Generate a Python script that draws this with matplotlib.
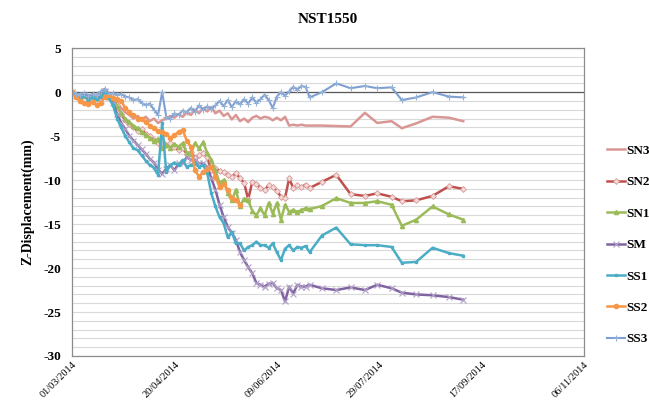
import datetime as dt
import numpy as np
import matplotlib
matplotlib.use("Agg")
import matplotlib.pyplot as plt
from matplotlib.ticker import MultipleLocator

plt.rcParams["axes.unicode_minus"] = False

# Datas (dias desde 01/03/2014)
start = dt.date(2014, 3, 1)
days = list(range(0, 117, 2)) + [122, 129, 136, 143, 149, 156, 161, 168, 176, 184, 191]
days_ss2 = list(range(0, 83, 2))

x_ticks = ["01/03/2014", "20/04/2014", "09/06/2014", "29/07/2014", "17/09/2014", "06/11/2014"]

sn3 = [0, -0.3, -0.5, -0.2, -0.6, -0.4, -0.7, -0.3, 0.2, -0.4,
       -0.6, -1.2, -1.8, -2.3, -2.6, -3.0, -2.7, -3.1, -2.8, -3.3,
       -3.0, -3.5, -3.2, -3.0, -2.7, -2.9, -2.5, -2.8, -2.3, -2.6,
       -2.0, -2.4, -1.8, -2.2, -1.7, -2.4, -2.1, -2.7, -2.4, -3.1,
       -2.6, -3.3, -3.0, -3.4, -2.9, -2.7, -3.0, -2.8, -2.9, -3.2,
       -2.9, -3.2, -2.8, -3.8, -3.7, -3.8, -3.7, -3.8, -3.8,
       -3.8, -3.85, -3.9, -2.35, -3.5, -3.3, -4.1, -3.55, -2.8, -2.9, -3.3]

sn2 = [0, -0.4, -0.6, -0.3, -0.7, -0.5, -0.8, -0.4, 0.1, -0.5,
       -0.8, -1.5, -2.5, -3.2, -3.6, -4.0, -4.4, -4.2, -4.8, -5.0,
       -5.4, -5.8, -5.5, -6.0, -5.8, -6.2, -6.6, -6.4, -7.0, -6.8,
       -7.5, -7.2, -6.9, -7.4, -8.9, -8.6, -9.0, -9.1, -9.4, -9.6,
       -9.2, -9.8, -10.3, -12.2, -10.2, -10.4, -10.9, -11.1, -10.6, -10.8,
       -11.2, -11.9, -12.0, -9.8, -10.9, -10.6, -10.8, -10.5, -10.9,
       -10.2, -9.4, -11.6, -11.8, -11.5, -11.9, -12.4, -12.3, -11.8, -10.7, -11.0]

sn1 = [0, -0.3, -0.7, -0.4, -0.8, -0.5, -0.7, -0.3, 0.2, -0.5,
       -0.9, -1.6, -2.4, -3.0, -3.4, -3.8, -4.1, -4.5, -4.9, -5.2,
       -5.6, -5.3, -6.4, -6.0, -6.3, -5.9, -6.2, -5.8, -6.9, -7.0,
       -5.8, -6.4, -5.7, -6.9, -7.7, -8.9, -10.3, -10.0, -11.5, -12.3,
       -11.1, -13.0, -12.1, -12.3, -13.5, -14.0, -13.2, -14.0, -12.6, -13.8,
       -12.6, -14.5, -12.8, -13.6, -13.4, -13.6, -13.4, -13.2, -13.3,
       -12.95, -12.05, -12.6, -12.6, -12.4, -12.8, -15.2, -14.5, -13.0, -13.9, -14.5]

sm = [0, -0.4, -0.6, -0.3, -0.8, -0.5, -0.7, -0.4, 0.1, -0.6,
      -1.2, -2.5, -3.5, -4.2, -5.0, -5.5, -6.0, -6.5, -7.0, -7.6,
      -8.0, -8.8, -9.3, -8.7, -8.3, -8.9, -8.1, -8.1, -7.4, -7.7,
      -7.7, -8.1, -8.1, -8.5, -9.8, -11.1, -12.8, -14.2, -15.3, -16.0,
      -16.8, -18.2, -19.1, -19.9, -20.6, -21.7, -21.9, -22.1, -21.8, -21.7,
      -22.3, -22.5, -23.8, -22.1, -22.9, -21.9, -22.1, -22.1, -21.9,
      -22.3, -22.5, -22.2, -22.5, -21.9, -22.3, -22.8, -23.0, -23.1, -23.3, -23.6]

ss1 = [0, -0.5, -0.7, -0.4, -0.9, -0.6, -0.8, -0.5, 0.0, -0.7,
       -1.5, -3.0, -4.0, -5.0, -5.7, -6.4, -6.6, -7.2, -7.8, -8.3,
       -8.6, -9.4, -3.5, -9.1, -8.3, -8.0, -8.3, -7.7, -8.5, -8.3,
       -8.1, -8.5, -8.3, -9.2, -11.5, -13.0, -14.2, -14.9, -16.5, -15.9,
       -17.2, -17.2, -18.0, -17.6, -17.4, -17.0, -17.4, -17.4, -17.7, -17.2,
       -18.2, -19.1, -17.8, -17.4, -18.0, -17.6, -17.7, -17.5, -18.2,
       -16.3, -15.4, -17.3, -17.4, -17.4, -17.6, -19.4, -19.3, -17.7, -18.3, -18.6]

ss2 = [0, -0.5, -1.0, -1.2, -1.4, -1.1, -1.5, -1.2, -0.6, -0.3,
       -0.7, -0.8, -1.0, -1.8, -2.3, -2.6, -3.0, -3.1, -3.4, -3.8,
       -4.1, -4.4, -4.5, -4.8, -5.2, -4.9, -4.5, -4.3, -5.5, -6.2,
       -8.9, -9.6, -9.1, -8.7, -8.5, -9.6, -10.8, -10.4, -11.1, -12.0,
       -12.3, -12.8]

ss3 = [0, -0.2, -0.3, -0.1, -0.4, -0.2, -0.3, 0.1, 0.4, -0.2,
       -0.1, -0.3, -0.2, -0.5, -0.6, -0.9, -0.8, -1.2, -1.5, -1.3,
       -2.0, -2.6, 0.0, -2.8, -3.0, -2.4, -2.6, -2.1, -2.3, -1.8,
       -2.2, -1.5, -2.0, -1.6, -1.9, -1.5, -1.0, -1.6, -0.9, -1.7,
       -1.0, -1.4, -0.8, -1.3, -0.6, -1.2, -0.8, -0.3, -0.9, -1.8,
       -0.5, 0.0, -0.4, 0.1, 0.6, 0.3, 0.7, 0.6, -0.6,
       0.0, 1.0, 0.45, 0.7, 0.45, 0.55, -0.9, -0.6, 0.0, -0.5, -0.6]

def to_dates(d):
    return [start + dt.timedelta(days=int(k)) for k in d]

serif = "Liberation Serif"

fig = plt.figure(figsize=(6.49, 4.05), dpi=100)
ax = fig.add_axes([0.111, 0.121, 0.789, 0.760])

x = to_dates(days)
lw = 1.8
ax.plot(x, sn3, color="#d99694", lw=lw, label="SN3")
ax.plot(x, sn2, color="#c0504d", lw=lw, marker="D", ms=3, mfc="#f2dcdb", mec="#d99694", mew=0.6, label="SN2")
ax.plot(x, sn1, color="#9bbb59", lw=lw, marker="^", ms=3, label="SN1")
ax.plot(x, sm, color="#8064a2", lw=lw, marker="x", ms=4, mec="#b3a2c7", mew=0.8, label="SM")
ax.plot(x, ss1, color="#4bacc6", lw=lw, marker="s", ms=2, label="SS1")
ax.plot(to_dates(days_ss2), ss2, color="#f79646", lw=lw, marker="o", ms=3, label="SS2")
ax.plot(x, ss3, color="#7f9fd4", lw=1.5, marker="+", ms=4, mec="#95b3d7", mew=0.8, label="SS3")

# eixo horizontal em zero
ax.axhline(0, color="#595959", lw=0.9, zorder=1.5)

ax.set_ylim(-30, 5)
ax.yaxis.set_major_locator(MultipleLocator(5))
ax.yaxis.set_minor_locator(MultipleLocator(1))
ax.grid(axis="y", which="both", color="#d9d9d9", lw=0.8)
ax.set_axisbelow(True)

tick_dates = [dt.datetime.strptime(t, "%d/%m/%Y").date() for t in x_ticks]
ax.set_xlim(tick_dates[0], tick_dates[-1])
ax.set_xticks(tick_dates)
ax.set_xticklabels(x_ticks, rotation=45, ha="right", rotation_mode="anchor",
                   fontsize=7.5, family=serif)
ax.tick_params(axis="x", length=0, pad=3)
ax.tick_params(axis="y", which="both", length=0, pad=8)
for lab in ax.get_yticklabels():
    lab.set_family(serif)
    lab.set_fontweight("bold")
    lab.set_fontsize(9.5)

for s in ax.spines.values():
    s.set_color("#8c8c8c")
    s.set_linewidth(0.9)

ax.set_title("NST1550", family=serif, fontweight="bold", fontsize=11, pad=18)
ax.set_ylabel("Z-Displacement(mm)", family=serif, fontweight="bold", fontsize=10, labelpad=6)

ax.legend(loc="center left", bbox_to_anchor=(0.925, 0.395), bbox_transform=fig.transFigure,
          frameon=False, prop={"family": serif, "weight": "bold", "size": 9.5},
          labelspacing=1.45, handlelength=1.4, handletextpad=0.1, borderpad=0)

fig.savefig("out.png", dpi=100)
